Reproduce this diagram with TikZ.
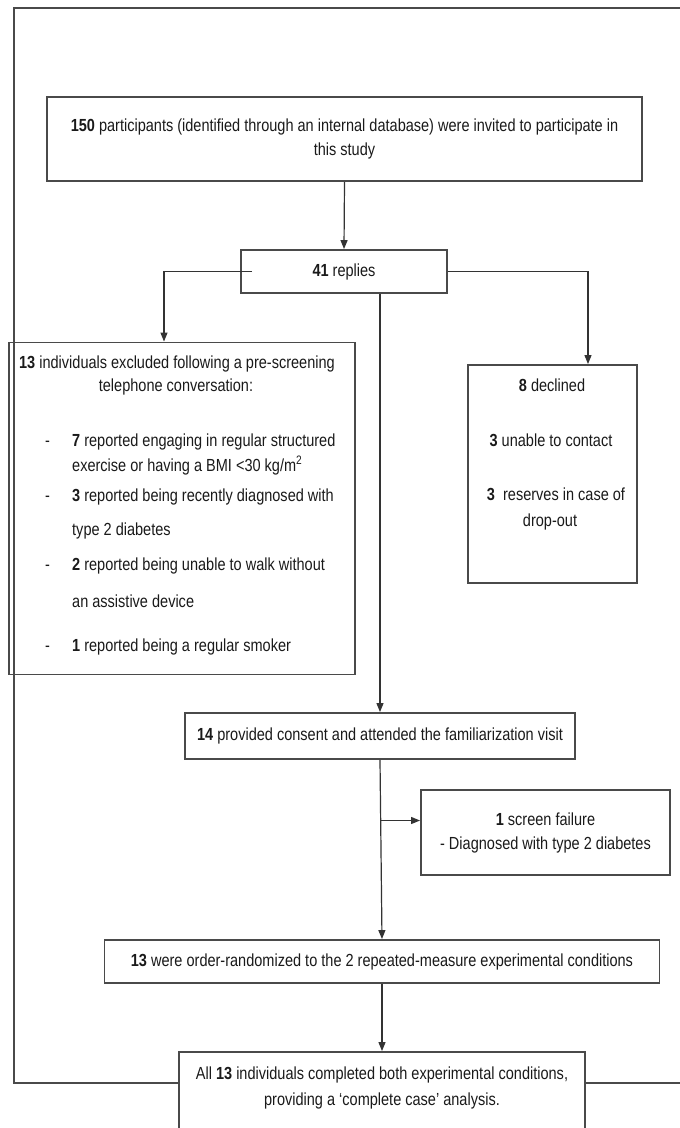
\documentclass[tikz,border=0pt]{standalone}
\usepackage{fontspec}
\setmainfont{Liberation Sans}[FakeStretch=0.83]
\usetikzlibrary{arrows.meta}
\definecolor{boxgray}{HTML}{4A4A4A}
\definecolor{linegray}{HTML}{333333}
\definecolor{ink}{HTML}{1A1A1A}
\begin{document}
\begin{tikzpicture}[x=1pt,y=-1pt,
  txt/.style={inner sep=0pt, text=ink, font=\fontsize{17.5}{24}\selectfont},
  box/.style={txt, draw=boxgray, line width=1.9pt, inner sep=0pt},
  frame/.style={draw=boxgray, line width=1.9pt},
  link/.style={draw=linegray, line width=1.2pt},
  arr/.style={link, -{Triangle[length=9pt,width=7pt]}}
]
\useasboundingbox (0,0) rectangle (680,1128);
\clip (0,0) rectangle (680,1128);

% --- boxes ---
\node[box, minimum width=595pt, minimum height=84pt, align=center] (invite) at (344.5,139)
  {\textbf{150} participants (identified through an internal database) were invited to participate in\\ this study};
\node[box, minimum width=206pt, minimum height=43pt] (replies) at (344,271.5) {\textbf{41} replies};

\node[box, minimum width=346pt, minimum height=332pt] (excl) at (182,508.5) {};
\node[txt, anchor=base] (exh1) at (177,368) {\textbf{13} individuals excluded following a pre-screening};
\node[txt, anchor=base] (exh2) at (176,391) {telephone conversation:};
\node[txt, anchor=base west] (dash1) at (45,446) {-};
\node[txt, anchor=base west] (ex1a) at (72,446) {\textbf{7} reported engaging in regular structured};
\node[txt, anchor=base west] (ex1b) at (72,471) {exercise or having a BMI <30 kg/m\textsuperscript{2}};
\node[txt, anchor=base west] (dash2) at (45,501) {-};
\node[txt, anchor=base west] (ex2a) at (72,501) {\textbf{3} reported being recently diagnosed with};
\node[txt, anchor=base west] (ex2b) at (72,535) {type 2 diabetes};
\node[txt, anchor=base west] (dash3) at (45,570) {-};
\node[txt, anchor=base west] (ex3a) at (72,570) {\textbf{2} reported being unable to walk without};
\node[txt, anchor=base west] (ex3b) at (72,607) {an assistive device};
\node[txt, anchor=base west] (dash4) at (45,651) {-};
\node[txt, anchor=base west] (ex4) at (72,651) {\textbf{1} reported being a regular smoker};

\node[box, minimum width=169pt, minimum height=218pt] (decl) at (552.5,474) {};
\node[txt, anchor=base] (dc1) at (552,391) {\textbf{8} declined};
\node[txt, anchor=base] (dc2) at (551,446) {\textbf{3} unable to contact};
\node[txt, anchor=base] (dc3) at (556,500) {\textbf{3}\ \ reserves in case of};
\node[txt, anchor=base] (dc4) at (550,526) {drop-out};

\node[box, minimum width=390pt, minimum height=46pt] (fam) at (380,736)
  {\textbf{14} provided consent and attended the familiarization visit};
\node[box, minimum width=249pt, minimum height=85pt, align=center] (fail) at (545.5,832.5)
  {\textbf{1} screen failure\\- Diagnosed with type 2 diabetes};
\node[box, minimum width=555pt, minimum height=43pt] (rand) at (382,961.5)
  {\textbf{13} were order-randomized to the 2 repeated-measure experimental conditions};

\node[box, minimum width=406pt, minimum height=110pt] (final) at (382,1107) {};
\node[txt, anchor=base] (fn1) at (382,1079) {All \textbf{13} individuals completed both experimental conditions,};
\node[txt, anchor=base] (fn2) at (382,1105) {providing a ‘complete case’ analysis.};

% --- outer frame ---
\coordinate (fbl) at (14,1083);
\coordinate (ftl) at (14,8);
\coordinate (ftr) at (700,8);
\coordinate (fbr) at (700,1083);
\draw[frame] (final.west |- fbl) -- (fbl) -- (ftl) -- (ftr);
\draw[frame] (final.east |- fbr) -- (fbr);

% --- connectors ---
\draw[arr] (invite.south) -- (replies.north);
\draw[arr] ([xshift=12pt]replies.west) -| ([xshift=-18pt]excl.north);
\draw[arr] (replies.east) -| ([xshift=35.5pt]decl.north);
\draw[arr] (replies.south -| fam.north) -- (fam.north);
\draw[arr] (fam.south) -- (rand.north);
\coordinate (branch) at ([yshift=12pt]fail.west);
\draw[arr] (fam.south |- branch) -- (branch);
\draw[arr] (rand.south) -- (final.north);
\end{tikzpicture}
\end{document}
